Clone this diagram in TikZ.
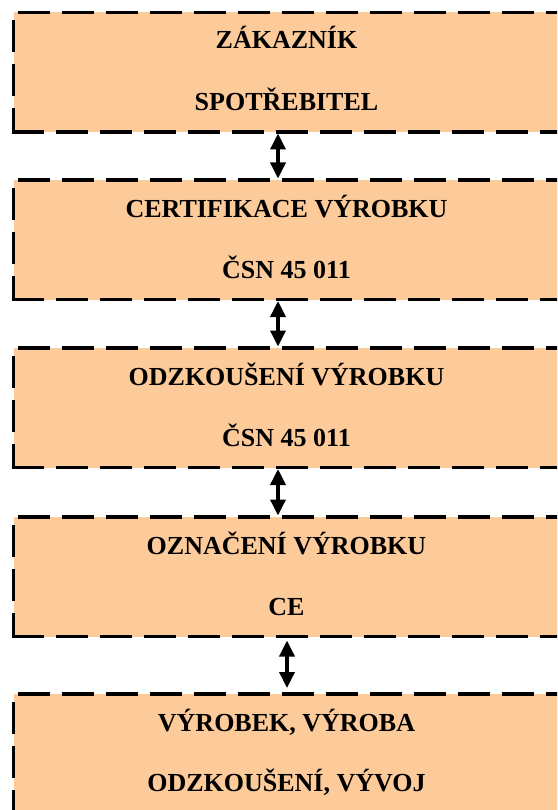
\documentclass[tikz,border=0pt]{standalone}
\usepackage{fontspec}
\setmainfont{Liberation Serif}
\usetikzlibrary{arrows.meta}
\definecolor{boxfill}{RGB}{253,203,153}
\begin{document}
\begin{tikzpicture}[x=1pt,y=-1pt,
  box/.style={fill=boxfill, draw=none, minimum width=546pt, minimum height=119.5pt, anchor=north west, inner sep=0pt, outer sep=0pt},
  txt/.style={anchor=base, font=\fontsize{26}{30}\selectfont\bfseries, inner sep=0pt, text=black},
  edgeline/.style={line width=3.5pt, dash pattern=on 32pt off 12pt},
  topedge/.style={edgeline, dash phase=39.5pt},
  leftedge/.style={edgeline, dash phase=36pt},
  botedge/.style={edgeline, dash phase=0pt},
  arr/.style={line width=3.5pt, {Triangle[length=16pt,width=15pt]}-{Triangle[length=16pt,width=15pt]}}
]
\clip (0,0) rectangle (557,810);

% boxes
\node[box] (b1) at (13.5,12.5) {};
\node[box] (b2) at (13.5,180) {};
\node[box] (b3) at (13.5,348) {};
\node[box] (b4) at (13.5,517) {};
\node[box] (b5) at (13.5,694) {};

% dashed borders
\foreach \b in {b1,b2,b3,b4,b5} {
  \draw[topedge] (\b.north west) -- (\b.north east);
  \draw[leftedge] (\b.north west) -- (\b.south west);
  \draw[botedge] ([xshift=-1.75pt]\b.south west) -- (\b.south east);
}

% texts
\node[txt] (t1a) at (286.5,49) {ZÁKAZNÍK};
\node[txt] (t1b) at (286.5,110.5) {SPOTŘEBITEL};
\node[txt] (t2a) at (286.5,217.5) {CERTIFIKACE VÝROBKU};
\node[txt] (t2b) at (286.5,278.5) {ČSN 45 011};
\node[txt] (t3a) at (286.5,385.5) {ODZKOUŠENÍ VÝROBKU};
\node[txt] (t3b) at (286.5,446.5) {ČSN 45 011};
\node[txt] (t4a) at (286.5,554.5) {OZNAČENÍ VÝROBKU};
\node[txt] (t4b) at (286.5,615.5) {CE};
\node[txt] (t5a) at (286.5,731.5) {VÝROBEK, VÝROBA};
\node[txt] (t5b) at (286.5,791.5) {ODZKOUŠENÍ, VÝVOJ};

% arrows
\draw[arr, shorten <=1.5pt, shorten >=1.5pt] ([xshift=-8.5pt]b1.south) -- ([xshift=-8.5pt]b2.north);
\draw[arr, shorten <=1.5pt, shorten >=1.5pt] ([xshift=-8.5pt]b2.south) -- ([xshift=-8.5pt]b3.north);
\draw[arr, shorten <=1.5pt, shorten >=1.5pt] ([xshift=-8.5pt]b3.south) -- ([xshift=-8.5pt]b4.north);
\draw[arr, shorten <=4pt, shorten >=6pt] ([xshift=0.5pt]b4.south) -- ([xshift=0.5pt]b5.north);
\end{tikzpicture}
\end{document}
